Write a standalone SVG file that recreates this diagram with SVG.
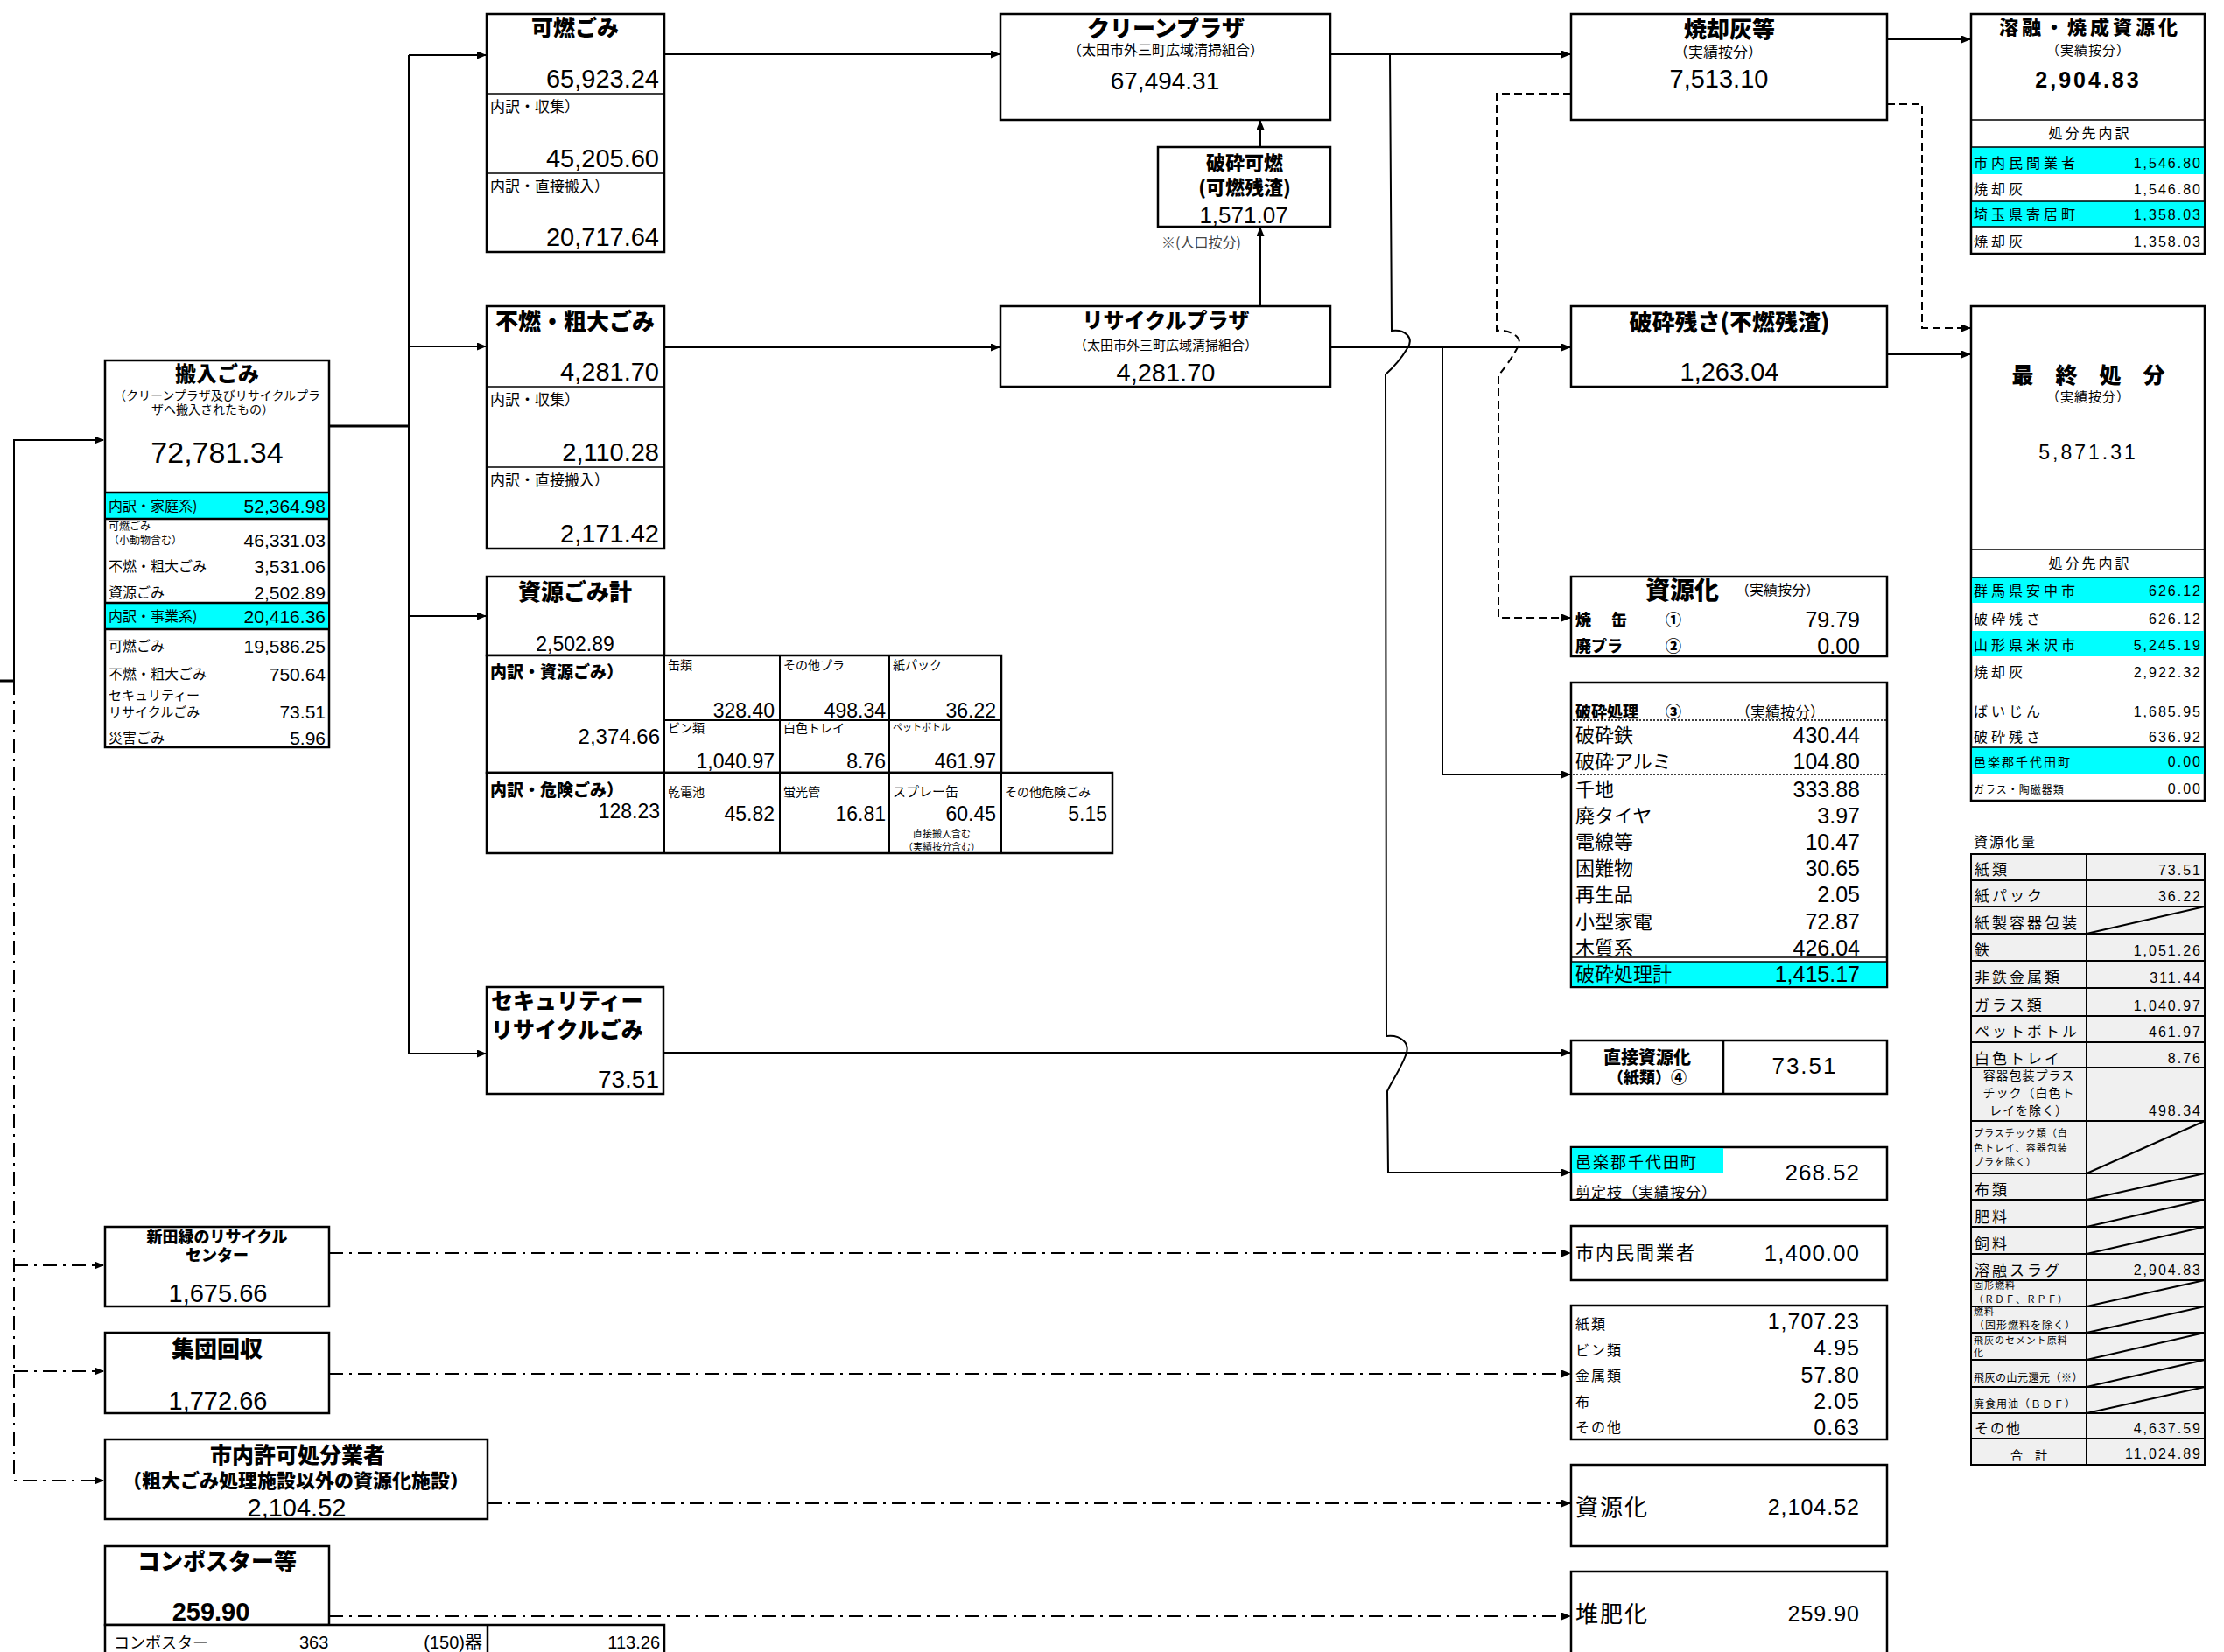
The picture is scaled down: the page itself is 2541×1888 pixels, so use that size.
<svg xmlns="http://www.w3.org/2000/svg" width="2541" height="1888" viewBox="0 0 2541 1888">
<defs>
<marker id="ar" markerUnits="userSpaceOnUse" markerWidth="11" markerHeight="9" refX="10" refY="4.5" orient="auto"><path d="M0,0 L11,4.5 L0,9 z" fill="#000"/></marker>
<style>
.box{fill:#fff;stroke:#000;stroke-width:2.5}
.ln{fill:none;stroke:#000;stroke-width:2}
.thin{fill:none;stroke:#000;stroke-width:1.5}
.dot{fill:none;stroke:#000;stroke-width:1.5;stroke-dasharray:2 2}
.da{fill:none;stroke:#000;stroke-width:2;stroke-dasharray:9 5}
.dd{fill:none;stroke:#000;stroke-width:2;stroke-dasharray:16 7 3 7}
.cy{fill:#00ffff}
.gr{fill:#f0f0f0;stroke:#000;stroke-width:2}
text{fill:#000}
.j{font-family:"Noto Sans CJK JP","Noto Sans",sans-serif}
.jb{font-family:"Noto Sans CJK JP","Noto Sans",sans-serif;font-weight:900}
.n{font-family:"Liberation Sans","Noto Sans CJK JP",sans-serif}
.nn{font-family:"Liberation Sans Narrow","Liberation Sans","Noto Sans CJK JP",sans-serif}
.m{text-anchor:middle}
.e{text-anchor:end}
</style>
</defs>
<rect width="2541" height="1888" fill="#fff"/>

<g id="connectors">
<path class="ln" d="M0,778 L16,778" style="stroke-width:3"/>
<path class="ln" d="M16,778 L16,503 L118,503" marker-end="url(#ar)"/>
<path class="dd" d="M16,778 L16,1692 L118,1692" marker-end="url(#ar)"/>
<path class="dd" d="M16,1446 L118,1446" marker-end="url(#ar)"/>
<path class="dd" d="M16,1567 L118,1567" marker-end="url(#ar)"/>
<path class="ln" d="M376,487 L467,487" style="stroke-width:3"/>
<path class="ln" d="M467,63 L467,1204"/>
<path class="ln" d="M467,63 L555,63" marker-end="url(#ar)"/>
<path class="ln" d="M467,396 L555,396" marker-end="url(#ar)"/>
<path class="ln" d="M467,704 L555,704" marker-end="url(#ar)"/>
<path class="ln" d="M467,1204 L555,1204" marker-end="url(#ar)"/>
<path class="ln" d="M759,62 L1142,62" marker-end="url(#ar)"/>
<path class="ln" d="M759,397 L1142,397" marker-end="url(#ar)"/>
<path class="ln" d="M1440,350 L1440,260" marker-end="url(#ar)"/>
<path class="ln" d="M1440,168 L1440,138" marker-end="url(#ar)"/>
<path class="ln" d="M1520,62 L1794,62" marker-end="url(#ar)"/>
<path class="ln" d="M1520,397 L1794,397" marker-end="url(#ar)"/>
<path class="ln" d="M1648,397 L1648,885 L1794,885" marker-end="url(#ar)"/>
<path class="ln" d="M1588,62 L1590,378 C1605,376 1616,386 1608,398 C1602,408 1592,420 1583,428 L1584,1184 C1600,1182 1612,1192 1606,1206 C1600,1222 1590,1236 1585,1247 L1586,1340 L1794,1340" marker-end="url(#ar)"/>
<path class="ln" d="M759,1203 L1794,1203" marker-end="url(#ar)"/>
<path class="da" d="M1795,107 L1710,107 L1710,378 C1725,376 1740,386 1735,395 C1730,405 1720,420 1712,429 L1712,706 L1794,706" marker-end="url(#ar)"/>
<path class="da" d="M2156,119 L2196,119 L2196,375 L2251,375" marker-end="url(#ar)"/>
<path class="ln" d="M2156,45 L2251,45" marker-end="url(#ar)"/>
<path class="ln" d="M2156,405 L2251,405" marker-end="url(#ar)"/>
<path class="dd" d="M376,1432 L1794,1432" marker-end="url(#ar)"/>
<path class="dd" d="M376,1570 L1794,1570" marker-end="url(#ar)"/>
<path class="dd" d="M557,1718 L1794,1718" marker-end="url(#ar)"/>
<path class="dd" d="M376,1847 L1794,1847" marker-end="url(#ar)"/>
</g>

<g id="n-hannyu">
<rect class="box" x="120" y="412" width="256" height="442"/>
<rect class="cy" x="121" y="563" width="254" height="30"/>
<rect class="cy" x="121" y="689" width="254" height="30"/>
<path class="ln" d="M120,563 H376 M120,593 H376 M120,689 H376 M120,719 H376" style="stroke-width:2.5"/>
<text class="jb m" x="248" y="436" font-size="24">搬入ごみ</text>
<text class="j m" x="248" y="457" font-size="14">（クリーンプラザ及びリサイクルプラ</text>
<text class="j m" x="243" y="473" font-size="14">ザへ搬入されたもの）</text>
<text class="nn m" x="248" y="529" font-size="34">72,781.34</text>
<text class="j" x="124" y="584" font-size="16">内訳・家庭系)</text>
<text class="nn e" x="372" y="586" font-size="21">52,364.98</text>
<text class="j" x="124" y="606" font-size="12">可燃ごみ</text>
<text class="j" x="124" y="622" font-size="12">（小動物含む）</text>
<text class="nn e" x="372" y="625" font-size="21">46,331.03</text>
<text class="j" x="124" y="653" font-size="16">不燃・粗大ごみ</text>
<text class="nn e" x="372" y="655" font-size="21">3,531.06</text>
<text class="j" x="124" y="683" font-size="16">資源ごみ</text>
<text class="nn e" x="372" y="685" font-size="21">2,502.89</text>
<text class="j" x="124" y="710" font-size="16">内訳・事業系)</text>
<text class="nn e" x="372" y="712" font-size="21">20,416.36</text>
<text class="j" x="124" y="744" font-size="16">可燃ごみ</text>
<text class="nn e" x="372" y="746" font-size="21">19,586.25</text>
<text class="j" x="124" y="776" font-size="16">不燃・粗大ごみ</text>
<text class="nn e" x="372" y="778" font-size="21">750.64</text>
<text class="j" x="124" y="800" font-size="15">セキュリティー</text>
<text class="j" x="124" y="819" font-size="15">リサイクルごみ</text>
<text class="nn e" x="372" y="821" font-size="21">73.51</text>
<text class="j" x="124" y="849" font-size="16">災害ごみ</text>
<text class="nn e" x="372" y="851" font-size="21">5.96</text>
</g>

<g id="n-kanen">
<rect class="box" x="556" y="16" width="203" height="272"/>
<path class="thin" d="M556,107 H759 M556,198 H759"/>
<text class="jb m" x="657" y="41" font-size="25">可燃ごみ</text>
<text class="n e" x="753" y="100" font-size="29">65,923.24</text>
<text class="j" x="560" y="128" font-size="17">内訳・収集）</text>
<text class="n e" x="753" y="191" font-size="29">45,205.60</text>
<text class="j" x="560" y="219" font-size="17">内訳・直接搬入）</text>
<text class="n e" x="753" y="281" font-size="29">20,717.64</text>
</g>

<g id="n-funen">
<rect class="box" x="556" y="350" width="203" height="277"/>
<path class="thin" d="M556,442 H759 M556,534 H759"/>
<text class="jb m" x="657" y="377" font-size="26">不燃・粗大ごみ</text>
<text class="n e" x="753" y="435" font-size="29">4,281.70</text>
<text class="j" x="560" y="463" font-size="17">内訳・収集）</text>
<text class="n e" x="753" y="527" font-size="29">2,110.28</text>
<text class="j" x="560" y="555" font-size="17">内訳・直接搬入）</text>
<text class="n e" x="753" y="620" font-size="29">2,171.42</text>
</g>

<g id="n-shigen">
<rect class="box" x="556" y="659" width="203" height="90"/>
<text class="jb m" x="657" y="686" font-size="26">資源ごみ計</text>
<text class="n m" x="657" y="744" font-size="23">2,502.89</text>
<rect class="box" x="556" y="749" width="588" height="134"/>
<rect class="box" x="556" y="883" width="715" height="92"/>
<path class="thin" d="M759,749 V975 M891,749 V975 M1016,749 V975 M1144,883 V975 M759,823 H1144" style="stroke-width:2"/>
<text class="jb" x="560" y="775" font-size="19">内訳・資源ごみ）</text>
<text class="n e" x="754" y="850" font-size="24">2,374.66</text>
<text class="j" x="763" y="765" font-size="14">缶類</text>
<text class="n e" x="885" y="820" font-size="23">328.40</text>
<text class="j" x="895" y="765" font-size="14">その他プラ</text>
<text class="n e" x="1012" y="820" font-size="23">498.34</text>
<text class="j" x="1020" y="765" font-size="14">紙パック</text>
<text class="n e" x="1138" y="820" font-size="23">36.22</text>
<text class="j" x="763" y="837" font-size="14">ビン類</text>
<text class="n e" x="885" y="878" font-size="23">1,040.97</text>
<text class="j" x="895" y="837" font-size="14">白色トレイ</text>
<text class="n e" x="1012" y="878" font-size="23">8.76</text>
<text class="j" x="1020" y="835" font-size="11">ペットボトル</text>
<text class="n e" x="1138" y="878" font-size="23">461.97</text>
<text class="jb" x="560" y="910" font-size="19">内訳・危険ごみ）</text>
<text class="n e" x="754" y="935" font-size="23">128.23</text>
<text class="j" x="763" y="910" font-size="14">乾電池</text>
<text class="n e" x="885" y="938" font-size="23">45.82</text>
<text class="j" x="895" y="910" font-size="14">蛍光管</text>
<text class="n e" x="1012" y="938" font-size="23">16.81</text>
<text class="j" x="1020" y="910" font-size="15">スプレー缶</text>
<text class="n e" x="1138" y="938" font-size="23">60.45</text>
<text class="j m" x="1076" y="957" font-size="11">直接搬入含む</text>
<text class="j m" x="1076" y="972" font-size="11">（実績按分含む）</text>
<text class="j" x="1148" y="910" font-size="14">その他危険ごみ</text>
<text class="n e" x="1265" y="938" font-size="23">5.15</text>
</g>

<g id="n-security">
<rect class="box" x="556" y="1128" width="202" height="122"/>
<text class="jb" x="561" y="1153" font-size="25">セキュリティー</text>
<text class="jb" x="561" y="1186" font-size="25">リサイクルごみ</text>
<text class="n e" x="753" y="1243" font-size="28">73.51</text>
</g>

<g id="n-clean">
<rect class="box" x="1143" y="16" width="377" height="121"/>
<text class="jb m" x="1332" y="42" font-size="26">クリーンプラザ</text>
<text class="j m" x="1332" y="63" font-size="16">（太田市外三町広域清掃組合）</text>
<text class="n m" x="1331" y="102" font-size="28">67,494.31</text>
</g>

<g id="n-hasai-kanen">
<rect class="box" x="1323" y="168" width="197" height="91"/>
<text class="jb m" x="1422" y="194" font-size="22">破砕可燃</text>
<text class="jb m" x="1422" y="222" font-size="22">(可燃残渣)</text>
<text class="n m" x="1421" y="255" font-size="26">1,571.07</text>
<text class="j" x="1327" y="283" font-size="16" style="fill:#444">※(人口按分)</text>
</g>

<g id="n-recycle">
<rect class="box" x="1143" y="350" width="377" height="92"/>
<text class="jb m" x="1332" y="375" font-size="24">リサイクルプラザ</text>
<text class="j m" x="1332" y="400" font-size="15">（太田市外三町広域清掃組合）</text>
<text class="n m" x="1332" y="436" font-size="29">4,281.70</text>
</g>

<g id="n-shokyakubai">
<rect class="box" x="1795" y="16" width="361" height="121"/>
<text class="jb m" x="1976" y="43" font-size="26">焼却灰等</text>
<text class="j m" x="1963" y="66" font-size="17">（実績按分）</text>
<text class="n m" x="1964" y="100" font-size="29">7,513.10</text>
</g>

<g id="n-zansa">
<rect class="box" x="1795" y="350" width="361" height="92"/>
<text class="jb m" x="1976" y="378" font-size="26">破砕残さ(不燃残渣)</text>
<text class="n m" x="1976" y="435" font-size="29">1,263.04</text>
</g>

<g id="n-shigenka">
<rect class="box" x="1795" y="659" width="361" height="91"/>
<text class="jb" x="1880" y="685" font-size="28">資源化</text>
<text class="j" x="1983" y="680" font-size="16">（実績按分）</text>
<text class="jb" x="1800" y="715" font-size="18">焼</text>
<text class="jb" x="1841" y="715" font-size="18">缶</text>
<text class="jb" x="1903" y="715" font-size="18">①</text>
<text class="n e" x="2125" y="717" font-size="25">79.79</text>
<text class="jb" x="1800" y="745" font-size="18">廃プラ</text>
<text class="jb" x="1903" y="745" font-size="18">②</text>
<text class="n e" x="2125" y="747" font-size="25">0.00</text>
</g>

<g id="n-hasai">
<rect class="box" x="1795" y="780" width="361" height="348"/>
<rect class="cy" x="1796" y="1099" width="359" height="28"/>
<path class="dot" d="M1797,823 H2155 M1797,885 H2155"/>
<path class="thin" d="M1795,1094 H2156 M1795,1099 H2156"/>
<text class="jb" x="1800" y="820" font-size="18">破砕処理</text>
<text class="jb" x="1903" y="820" font-size="18">③</text>
<text class="j" x="1983" y="820" font-size="17">（実績按分）</text>
<text class="j" x="1800" y="848" font-size="22">破砕鉄</text>
<text class="n e" x="2125" y="849" font-size="25">430.44</text>
<text class="j" x="1800" y="878" font-size="22">破砕アルミ</text>
<text class="n e" x="2125" y="879" font-size="25">104.80</text>
<text class="j" x="1800" y="910" font-size="22">千地</text>
<text class="n e" x="2125" y="911" font-size="25">333.88</text>
<text class="j" x="1800" y="940" font-size="22">廃タイヤ</text>
<text class="n e" x="2125" y="941" font-size="25">3.97</text>
<text class="j" x="1800" y="970" font-size="22">電線等</text>
<text class="n e" x="2125" y="971" font-size="25">10.47</text>
<text class="j" x="1800" y="1000" font-size="22">困難物</text>
<text class="n e" x="2125" y="1001" font-size="25">30.65</text>
<text class="j" x="1800" y="1030" font-size="22">再生品</text>
<text class="n e" x="2125" y="1031" font-size="25">2.05</text>
<text class="j" x="1800" y="1061" font-size="22">小型家電</text>
<text class="n e" x="2125" y="1062" font-size="25">72.87</text>
<text class="j" x="1800" y="1091" font-size="22">木質系</text>
<text class="n e" x="2125" y="1092" font-size="25">426.04</text>
<text class="j" x="1800" y="1121" font-size="22">破砕処理計</text>
<text class="n e" x="2125" y="1122" font-size="25">1,415.17</text>
</g>

<g id="n-chokusetsu">
<rect class="box" x="1795" y="1189" width="361" height="61"/>
<path class="ln" d="M1969,1189 V1250" style="stroke-width:2.5"/>
<text class="jb m" x="1882" y="1216" font-size="20">直接資源化</text>
<text class="jb m" x="1882" y="1238" font-size="18">（紙類）④</text>
<text class="n m" x="2062" y="1227" font-size="26" letter-spacing="2">73.51</text>
</g>

<g id="n-oura">
<rect class="box" x="1795" y="1311" width="361" height="60"/>
<rect class="cy" x="1796" y="1312" width="173" height="28"/>
<text class="j" x="1800" y="1335" font-size="18" letter-spacing="2">邑楽郡千代田町</text>
<text class="j" x="1800" y="1369" font-size="17" letter-spacing="1">剪定枝（実績按分）</text>
<text class="n e" x="2125" y="1349" font-size="26" letter-spacing="1">268.52</text>
</g>

<g id="n-minkan">
<rect class="box" x="1795" y="1401" width="361" height="62"/>
<text class="j" x="1800" y="1439" font-size="21" letter-spacing="2">市内民間業者</text>
<text class="n e" x="2125" y="1441" font-size="26" letter-spacing="1">1,400.00</text>
</g>

<g id="n-list">
<rect class="box" x="1795" y="1492" width="361" height="153"/>
<text class="j" x="1800" y="1519" font-size="16" letter-spacing="2">紙類</text>
<text class="j" x="1800" y="1549" font-size="16" letter-spacing="2">ビン類</text>
<text class="j" x="1800" y="1578" font-size="16" letter-spacing="2">金属類</text>
<text class="j" x="1800" y="1608" font-size="16" letter-spacing="2">布</text>
<text class="j" x="1800" y="1637" font-size="16" letter-spacing="2">その他</text>
<text class="n e" x="2125" y="1519" font-size="25" letter-spacing="1">1,707.23</text>
<text class="n e" x="2125" y="1549" font-size="25" letter-spacing="1">4.95</text>
<text class="n e" x="2125" y="1580" font-size="25" letter-spacing="1">57.80</text>
<text class="n e" x="2125" y="1610" font-size="25" letter-spacing="1">2.05</text>
<text class="n e" x="2125" y="1640" font-size="25" letter-spacing="1">0.63</text>
</g>

<g id="n-shigenka2">
<rect class="box" x="1795" y="1674" width="361" height="93"/>
<text class="j" x="1800" y="1732" font-size="26" letter-spacing="2">資源化</text>
<text class="n e" x="2125" y="1731" font-size="25" letter-spacing="1">2,104.52</text>
</g>

<g id="n-taihi">
<rect class="box" x="1795" y="1796" width="361" height="100"/>
<text class="j" x="1800" y="1854" font-size="26" letter-spacing="2">堆肥化</text>
<text class="n e" x="2125" y="1853" font-size="25" letter-spacing="1">259.90</text>
</g>

<g id="n-yuyu">
<rect class="box" x="2252" y="16" width="267" height="274"/>
<rect class="cy" x="2253" y="168" width="265" height="31"/>
<rect class="cy" x="2253" y="230" width="265" height="29"/>
<path class="thin" d="M2252,137 H2519 M2252,168 H2519 M2252,230 H2519 M2252,259 H2519"/>
<text class="jb m" x="2388" y="39" font-size="22" letter-spacing="4">溶融・焼成資源化</text>
<text class="j m" x="2386" y="63" font-size="15" letter-spacing="1">（実績按分）</text>
<text class="n m" x="2386" y="100" font-size="25" font-weight="bold" letter-spacing="3">2,904.83</text>
<text class="j m" x="2388" y="158" font-size="16" letter-spacing="3">処分先内訳</text>
<text class="j" x="2255" y="192" font-size="16" letter-spacing="4">市内民間業者</text>
<text class="n e" x="2516" y="192" font-size="16" letter-spacing="2">1,546.80</text>
<text class="j" x="2255" y="222" font-size="16" letter-spacing="4">焼却灰</text>
<text class="n e" x="2516" y="222" font-size="16" letter-spacing="2">1,546.80</text>
<text class="j" x="2255" y="251" font-size="16" letter-spacing="4">埼玉県寄居町</text>
<text class="n e" x="2516" y="251" font-size="16" letter-spacing="2">1,358.03</text>
<text class="j" x="2255" y="282" font-size="16" letter-spacing="4">焼却灰</text>
<text class="n e" x="2516" y="282" font-size="16" letter-spacing="2">1,358.03</text>
</g>

<g id="n-saishu">
<rect class="box" x="2252" y="350" width="267" height="565"/>
<rect class="cy" x="2253" y="660" width="265" height="29"/>
<rect class="cy" x="2253" y="721" width="265" height="29"/>
<rect class="cy" x="2253" y="854" width="265" height="31"/>
<path class="thin" d="M2252,628 H2519 M2252,660 H2519 M2252,854 H2519"/>
<text class="jb m" x="2386" y="438" font-size="25">最　終　処　分</text>
<text class="j m" x="2386" y="459" font-size="15" letter-spacing="1">（実績按分）</text>
<text class="n m" x="2386" y="525" font-size="23" letter-spacing="3">5,871.31</text>
<text class="j m" x="2388" y="650" font-size="16" letter-spacing="3">処分先内訳</text>
<text class="j" x="2255" y="681" font-size="16" letter-spacing="4">群馬県安中市</text>
<text class="n e" x="2516" y="681" font-size="16" letter-spacing="2">626.12</text>
<text class="j" x="2255" y="713" font-size="16" letter-spacing="4">破砕残さ</text>
<text class="n e" x="2516" y="713" font-size="16" letter-spacing="2">626.12</text>
<text class="j" x="2255" y="743" font-size="16" letter-spacing="4">山形県米沢市</text>
<text class="n e" x="2516" y="743" font-size="16" letter-spacing="2">5,245.19</text>
<text class="j" x="2255" y="774" font-size="16" letter-spacing="4">焼却灰</text>
<text class="n e" x="2516" y="774" font-size="16" letter-spacing="2">2,922.32</text>
<text class="j" x="2255" y="819" font-size="16" letter-spacing="4">ばいじん</text>
<text class="n e" x="2516" y="819" font-size="16" letter-spacing="2">1,685.95</text>
<text class="j" x="2255" y="848" font-size="16" letter-spacing="4">破砕残さ</text>
<text class="n e" x="2516" y="848" font-size="16" letter-spacing="2">636.92</text>
<text class="j" x="2255" y="876" font-size="14" letter-spacing="2">邑楽郡千代田町</text>
<text class="n e" x="2516" y="876" font-size="16" letter-spacing="2">0.00</text>
<text class="j" x="2255" y="907" font-size="12" letter-spacing="1">ガラス・陶磁器類</text>
<text class="n e" x="2516" y="907" font-size="16" letter-spacing="2">0.00</text>
</g>

<g id="n-shigenkaryo">
<text class="j" x="2255" y="968" font-size="16" letter-spacing="2">資源化量</text>
<rect class="gr" x="2252" y="976" width="267" height="698"/>
<path class="ln" d="M2384,976 V1674 M2252,1006 H2519 M2252,1036 H2519 M2252,1067 H2519 M2252,1098 H2519 M2252,1129 H2519 M2252,1161 H2519 M2252,1191 H2519 M2252,1220 H2519 M2252,1281 H2519 M2252,1341 H2519 M2252,1371 H2519 M2252,1402 H2519 M2252,1433 H2519 M2252,1463 H2519 M2252,1493 H2519 M2252,1523 H2519 M2252,1554 H2519 M2252,1585 H2519 M2252,1615 H2519 M2252,1644 H2519"/>
<path class="ln" d="M2384,1067 L2519,1036 M2384,1341 L2519,1281 M2384,1371 L2519,1341 M2384,1402 L2519,1371 M2384,1433 L2519,1402 M2384,1493 L2519,1463 M2384,1523 L2519,1493 M2384,1554 L2519,1523 M2384,1585 L2519,1554 M2384,1615 L2519,1585"/>
<text class="j" x="2256" y="1000" font-size="17" letter-spacing="3">紙類</text>
<text class="n e" x="2516" y="1000" font-size="16" letter-spacing="2">73.51</text>
<text class="j" x="2256" y="1030" font-size="17" letter-spacing="3">紙パック</text>
<text class="n e" x="2516" y="1030" font-size="16" letter-spacing="2">36.22</text>
<text class="j" x="2256" y="1061" font-size="17" letter-spacing="3">紙製容器包装</text>
<text class="j" x="2256" y="1092" font-size="17" letter-spacing="3">鉄</text>
<text class="n e" x="2516" y="1092" font-size="16" letter-spacing="2">1,051.26</text>
<text class="j" x="2256" y="1123" font-size="17" letter-spacing="3">非鉄金属類</text>
<text class="n e" x="2516" y="1123" font-size="16" letter-spacing="2">311.44</text>
<text class="j" x="2256" y="1155" font-size="17" letter-spacing="3">ガラス類</text>
<text class="n e" x="2516" y="1155" font-size="16" letter-spacing="2">1,040.97</text>
<text class="j" x="2256" y="1185" font-size="17" letter-spacing="3">ペットボトル</text>
<text class="n e" x="2516" y="1185" font-size="16" letter-spacing="2">461.97</text>
<text class="j" x="2256" y="1216" font-size="17" letter-spacing="3">白色トレイ</text>
<text class="n e" x="2516" y="1215" font-size="16" letter-spacing="2">8.76</text>
<text class="j m" x="2318" y="1234" font-size="14" letter-spacing="1">容器包装プラス</text>
<text class="j m" x="2318" y="1254" font-size="14" letter-spacing="1">チック（白色ト</text>
<text class="j m" x="2318" y="1274" font-size="14" letter-spacing="1">レイを除く）</text>
<text class="n e" x="2516" y="1275" font-size="16" letter-spacing="2">498.34</text>
<text class="j" x="2255" y="1299" font-size="11" letter-spacing="1">プラスチック類（白</text>
<text class="j" x="2255" y="1316" font-size="11" letter-spacing="1">色トレイ、容器包装</text>
<text class="j" x="2255" y="1332" font-size="11" letter-spacing="1">プラを除く）</text>
<text class="j" x="2256" y="1366" font-size="17" letter-spacing="3">布類</text>
<text class="j" x="2256" y="1397" font-size="17" letter-spacing="3">肥料</text>
<text class="j" x="2256" y="1428" font-size="17" letter-spacing="3">飼料</text>
<text class="j" x="2256" y="1458" font-size="17" letter-spacing="3">溶融スラグ</text>
<text class="n e" x="2516" y="1457" font-size="16" letter-spacing="2">2,904.83</text>
<text class="j" x="2255" y="1473" font-size="11" letter-spacing="1">固形燃料</text>
<text class="j" x="2255" y="1489" font-size="11" letter-spacing="1">（ＲＤＦ、ＲＰＦ）</text>
<text class="j" x="2255" y="1503" font-size="11" letter-spacing="1">燃料</text>
<text class="j" x="2255" y="1519" font-size="12" letter-spacing="1">（固形燃料を除く）</text>
<text class="j" x="2255" y="1536" font-size="11" letter-spacing="1">飛灰のセメント原料</text>
<text class="j" x="2255" y="1550" font-size="11">化</text>
<text class="j" x="2255" y="1579" font-size="12" letter-spacing="0.5">飛灰の山元還元（※）</text>
<text class="j" x="2255" y="1609" font-size="12" letter-spacing="1">廃食用油（ＢＤＦ）</text>
<text class="j" x="2256" y="1638" font-size="16" letter-spacing="2">その他</text>
<text class="n e" x="2516" y="1638" font-size="16" letter-spacing="2">4,637.59</text>
<text class="j m" x="2318" y="1668" font-size="14">合　計</text>
<text class="n e" x="2516" y="1667" font-size="16" letter-spacing="2">11,024.89</text>
</g>

<g id="n-nitta">
<rect class="box" x="120" y="1402" width="256" height="91"/>
<text class="jb m" x="248" y="1420" font-size="18">新田緑のリサイクル</text>
<text class="jb m" x="248" y="1441" font-size="18">センター</text>
<text class="n m" x="249" y="1488" font-size="29">1,675.66</text>
</g>

<g id="n-shudan">
<rect class="box" x="120" y="1523" width="256" height="92"/>
<text class="jb m" x="248" y="1551" font-size="26">集団回収</text>
<text class="n m" x="249" y="1611" font-size="29">1,772.66</text>
</g>

<g id="n-kyoka">
<rect class="box" x="120" y="1645" width="437" height="91"/>
<text class="jb m" x="340" y="1672" font-size="25">市内許可処分業者</text>
<text class="jb m" x="338" y="1700" font-size="22">（粗大ごみ処理施設以外の資源化施設）</text>
<text class="n m" x="339" y="1733" font-size="29">2,104.52</text>
</g>

<g id="n-compost">
<rect class="box" x="120" y="1767" width="256" height="90"/>
<text class="jb m" x="248" y="1794" font-size="26">コンポスター等</text>
<text class="n m" x="241" y="1852" font-size="29" font-weight="bold">259.90</text>
<rect class="box" x="120" y="1857" width="639" height="40"/>
<path class="ln" d="M557,1857 V1888" style="stroke-width:2.5"/>
<text class="j" x="130" y="1884" font-size="18">コンポスター</text>
<text class="nn" x="342" y="1884" font-size="20">363</text>
<text class="nn e" x="551" y="1884" font-size="20">(150)器</text>
<text class="nn e" x="754" y="1884" font-size="20">113.26</text>
</g>
</svg>
